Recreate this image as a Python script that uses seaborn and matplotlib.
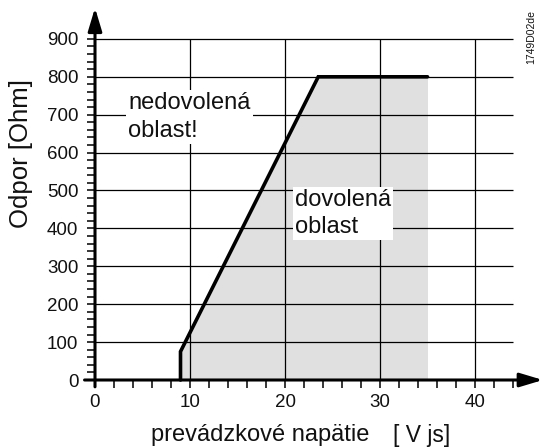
import matplotlib
matplotlib.use("Agg")
import matplotlib.pyplot as plt
import seaborn as sns
import pandas as pd
from matplotlib.ticker import FixedLocator

# ---- data ----
boundary_v = [9, 9, 23.5, 35]          # operating voltage [V]
boundary_r = [0, 75, 800, 800]         # resistance [Ohm]
x_major = [0, 10, 20, 30, 40]
x_minor = list(range(0, 45, 2))
y_major = [0, 100, 200, 300, 400, 500, 600, 700, 800, 900]
y_minor = list(range(0, 901, 20))
grid_x = [10, 20, 30, 40]
grid_y = [100, 200, 300, 400, 500, 600, 700, 800, 900]
label_forbidden = "nedovolená\noblast!"
label_allowed = "dovolená\noblast"
xlabel_main = "prevádzkové napätie"
xlabel_unit = "[ V js]"
ylabel = "Odpor [Ohm]"
doc_id = "1749D02de"

sns.set_theme(style="white")
plt.rcParams["font.family"] = ["Liberation Sans", "DejaVu Sans"]

W, H = 544, 448
fig = plt.figure(figsize=(W / 100, H / 100), dpi=100)
px_x = 9.5        # pixels per volt
px_y = 0.379      # pixels per ohm
x0_px, y0_px = 95, 380
xmax = (W - x0_px) / px_x
ymax = y0_px / px_y
ax = fig.add_axes([x0_px / W, (H - y0_px) / H, (W - x0_px) / W, y0_px / H])
ax.set_xlim(0, xmax)
ax.set_ylim(0, ymax)
for s in ax.spines.values():
    s.set_visible(False)
ax.set_facecolor("none")

df = pd.DataFrame({"v": boundary_v, "r": boundary_r})

# allowed area fill
ax.fill_between(df["v"], 0, df["r"], color="#e0e0e0", lw=0, zorder=1)

# grid
ax.hlines(grid_y, 0, 44, colors="black", lw=0.9, zorder=2)
ax.vlines(grid_x, 0, 900, colors="black", lw=0.9, zorder=2)

# boundary line
sns.lineplot(data=df, x="v", y="r", sort=False, color="black", lw=2.6,
             ax=ax, zorder=5, estimator=None)
ax.lines[-1].set_solid_joinstyle("miter")
ax.lines[-1].set_clip_on(False)

# axes with arrows
ax.annotate("", xy=(47.15, 0), xytext=(-1.1, 0), xycoords="data",
            arrowprops=dict(arrowstyle="-|>,head_length=1.0,head_width=0.3",
                            lw=2.2, color="black", mutation_scale=14,
                            shrinkA=0, shrinkB=0),
            annotation_clip=False, zorder=6)
ax.annotate("", xy=(0, 982), xytext=(0, -18), xycoords="data",
            arrowprops=dict(arrowstyle="-|>,head_length=1.0,head_width=0.3",
                            lw=2.2, color="black", mutation_scale=14,
                            shrinkA=0, shrinkB=0),
            annotation_clip=False, zorder=6)

# ticks
ax.xaxis.set_major_locator(FixedLocator(x_major))
ax.xaxis.set_minor_locator(FixedLocator(x_minor))
ax.yaxis.set_major_locator(FixedLocator(y_major))
ax.yaxis.set_minor_locator(FixedLocator(y_minor))
ax.set_xticklabels([str(v) for v in x_major])
ax.set_yticklabels([str(v) for v in y_major])
ax.tick_params(axis="both", which="both", direction="out", length=6,
               width=1.1, color="black", bottom=True, left=True,
               top=False, right=False)
ax.tick_params(axis="x", which="major", labelsize=13.5, pad=4, labelcolor="#111111")
ax.tick_params(axis="y", which="major", labelsize=13.5, pad=6, labelcolor="#111111")
ax.set_xlabel("")
ax.set_ylabel("")

# region labels
ax.text(3.5, 694, label_forbidden, fontsize=17, ha="left", va="center",
        linespacing=1.38, color="#111111", zorder=7,
        bbox=dict(facecolor="white", edgecolor="none", pad=1.5))
ax.text(21.05, 440, label_allowed, fontsize=17, ha="left", va="center",
        linespacing=1.3, color="#111111", zorder=7,
        bbox=dict(facecolor="white", edgecolor="none", pad=1.5))

# axis labels as figure text
fig.text(260 / W, 1 - 441 / H, xlabel_main, fontsize=17, ha="center",
         va="baseline", color="#111111")
fig.text(422 / W, 1 - 442 / H, xlabel_unit, fontsize=16.5, ha="center",
         va="baseline", color="#111111")
fig.text(21 / W, 1 - 154 / H, ylabel, fontsize=18.5, rotation=90,
         ha="center", va="center", color="#111111")
fig.text(531 / W, 1 - 37 / H, doc_id, fontsize=7.5, rotation=90,
         ha="center", va="center", color="#111111")

fig.savefig("out.png", dpi=100)
